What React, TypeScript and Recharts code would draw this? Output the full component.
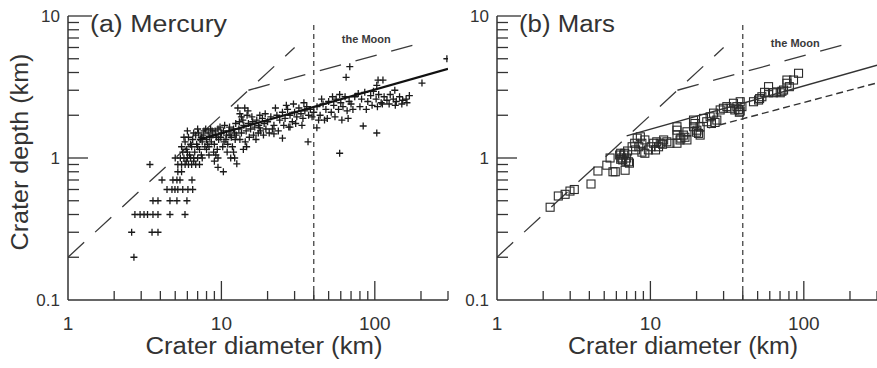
import React from 'react';
import { ScatterChart, Scatter, XAxis, YAxis, ReferenceLine, ReferenceDot } from 'recharts';

// ---------- data ----------
const xTicks = [1, 2, 3, 4, 5, 6, 7, 8, 9, 10, 20, 30, 40, 50, 60, 70, 80, 90, 100, 200, 300];
const yTicks = [0.1, 0.2, 0.3, 0.4, 0.5, 0.6, 0.7, 0.8, 0.9, 1, 2, 3, 4, 5, 6, 7, 8, 9, 10];
const xTickLabels: Record<number, string> = { 1: '1', 10: '10', 100: '100' };
const yTickLabels: Record<number, string> = { 0.1: '0.1', 1: '1', 10: '10' };

// Moon reference relations (diameter km, depth km)
const moonSimple: [number, number][] = [[1, 0.2], [30, 6.0]];
const moonComplex: [number, number][] = [[15, 3.0], [205, 6.5]];
// fits
const mercuryFit: [number, number][] = [[7, 1.34], [300, 4.25]];
const marsFit: [number, number][] = [[7.0, 1.43], [300, 4.5]];
const marsFitDashed: [number, number][] = [[24, 1.63], [300, 3.38]];
const transitionDiameter = 40;

// Mercury craters (diameter km, depth km)
const mercuryCraters: [number, number][] = [
  [2.69, 0.2],
  [2.6, 0.3], [3.53, 0.3], [3.86, 0.3],
  [2.73, 0.4], [2.95, 0.4], [3.13, 0.4], [3.3, 0.4], [3.58, 0.4], [3.86, 0.4], [4.62, 0.4], [5.79, 0.4],
  [3.58, 0.5], [3.86, 0.5], [4.62, 0.5], [5.13, 0.5], [5.96, 0.5],
  [4.42, 0.6], [4.76, 0.6], [4.98, 0.6], [5.2, 0.6], [5.6, 0.6], [6.05, 0.6], [6.5, 0.6],
  [4.1, 0.7], [4.83, 0.7], [5.13, 0.7], [5.37, 0.7], [6.43, 0.7],
  [3.42, 0.9], [5.2, 0.8], [5.5, 0.8], [10.3, 0.8], [9.5, 0.86],
  [5.2, 0.9], [5.5, 0.9], [5.8, 0.9], [6.1, 0.9], [6.4, 0.9], [6.8, 0.9], [7.2, 0.9], [12.6, 0.91],
  [5.0, 1.0], [5.4, 1.0], [5.7, 1.0], [6.0, 1.0], [6.3, 1.0], [6.6, 1.0], [7.0, 1.0], [7.5, 1.0], [9.5, 1.0], [11.5, 1.0], [12.2, 1.0],
  [5.9, 0.95], [6.6, 0.95], [7.4, 1.05], [8.3, 1.05], [9.2, 1.05],
  [5.6, 1.1], [5.9, 1.15], [6.2, 1.05], [6.4, 1.2], [6.7, 1.1], [6.9, 1.25], [7.2, 1.15], [7.5, 1.3], [7.8, 1.2], [8.0, 1.35],
  [5.8, 1.3], [6.1, 1.4], [6.5, 1.35], [6.8, 1.45], [7.1, 1.5], [7.4, 1.4], [7.7, 1.55], [8.2, 1.5], [8.5, 1.6], [8.8, 1.45],
  [6.0, 1.55], [7.0, 1.6], [5.5, 1.2], [5.7, 1.4],
  [6.3, 1.25], [6.6, 1.5], [7.3, 1.35], [7.6, 1.45], [7.9, 1.6], [8.1, 1.25], [8.4, 1.4], [8.7, 1.55], [9.2, 1.45], [9.5, 1.6],
  [9.9, 1.4], [10.3, 1.55], [10.7, 1.35], [11.4, 1.45], [12.2, 1.5], [6.0, 1.1], [7.0, 1.2], [8.0, 1.15], [11.3, 1.65], [12.4, 1.75], [13.1, 1.8],
  [8.3, 1.2], [8.6, 1.3], [9.0, 1.25], [9.3, 1.4], [9.6, 1.35], [10, 1.5], [10.4, 1.3], [10.8, 1.45], [11.2, 1.55], [11.6, 1.4],
  [12, 1.6], [9.1, 1.55], [9.8, 1.65], [10.5, 1.7], [11.0, 1.25], [11.8, 1.2], [12.3, 1.35], [8.9, 1.1], [9.4, 1.15], [10.2, 1.2],
  [10.9, 1.1], [12.0, 1.1], [9.0, 0.95],
  [12.8, 2.25], [14.2, 2.25], [14.9, 2.15], [13.2, 2.05], [14.7, 2.0], [13.5, 1.95],
  [12.5, 1.45], [13, 1.6], [13.5, 1.5], [14, 1.7], [14.5, 1.55], [15, 1.75], [15.5, 1.6], [16, 1.8], [16.5, 1.65], [17, 1.85],
  [17.5, 1.7], [18, 1.55], [18.5, 1.9], [19, 1.75], [19.5, 1.6], [13.2, 1.35], [14.3, 1.3], [15.2, 1.4], [16.2, 1.45], [17.4, 1.5],
  [18.8, 1.45], [13.8, 1.85], [15.8, 1.95], [17.8, 2.0], [19.3, 2.05], [16.8, 1.35], [14.6, 1.2], [13.9, 1.15], [17.8, 1.63], [22, 1.48],
  [20, 1.8], [21, 1.95], [22, 1.7], [23, 2.0], [24, 1.85], [25, 2.1], [26, 1.9], [27, 2.2], [28, 2.0], [29, 1.8],
  [30, 2.1], [31, 1.95], [32, 2.25], [33, 2.05], [34, 1.9], [35, 2.15], [36, 2.3], [37, 2.0], [38, 2.2], [39, 1.95],
  [21.5, 1.6], [23.5, 1.55], [25.5, 1.7], [27.5, 1.65], [30.5, 1.75], [33.5, 1.7], [22.5, 2.25], [26.5, 2.35], [29.5, 2.4], [34.5, 2.45],
  [20.5, 1.5], [25, 1.38], [28, 1.65], [36.7, 1.3], [41.9, 1.63], [47, 1.85],
  [40, 2.1], [42, 2.3], [44, 2.0], [46, 2.4], [48, 2.2], [50, 2.5], [52, 2.1], [54, 2.35], [56, 2.6], [58, 2.2],
  [60, 2.45], [62, 2.3], [64, 2.7], [66, 2.15], [68, 2.5], [43, 1.85], [49, 1.9], [55, 1.95], [61, 1.85], [67, 1.9],
  [45, 2.6], [53, 2.7], [59, 2.8], [59, 1.08], [65, 3.7], [68.7, 4.4],
  [70, 2.4], [74, 2.7], [78, 2.85], [82, 2.6], [86, 2.9], [90, 2.5], [94, 2.75], [98, 2.95], [102, 2.6], [106, 2.8],
  [110, 2.45], [115, 2.7], [120, 2.55], [126, 2.8], [132, 2.6], [138, 2.5], [145, 2.7], [152, 2.55], [160, 2.6], [168, 2.75],
  [72, 2.2], [80, 2.3], [88, 2.2], [96, 2.35], [104, 2.3], [112, 2.4], [124, 2.4], [136, 2.35], [150, 2.4], [162, 2.45],
  [84, 1.68], [103, 1.5], [105, 3.54], [113, 3.54], [103, 3.25], [135, 3.0], [203, 3.37], [295, 5.0],
];

// Mars craters (diameter km, depth km)
const marsCraters: [number, number][] = [
  [2.22, 0.45], [2.51, 0.54], [2.78, 0.555], [2.99, 0.585], [3.19, 0.6], [4.1, 0.656], [4.55, 0.81], [5.2, 0.89], [5.46, 1.0],
  [5.7, 0.8], [5.9, 0.8], [6.84, 0.82],
  [6.3, 1.05], [6.4, 1.08], [6.5, 1.0], [6.6, 0.97], [6.7, 1.05], [6.9, 0.95], [7.0, 1.0], [7.2, 0.94], [7.3, 0.92], [6.4, 0.98],
  [6.8, 1.08], [7.1, 1.12],
  [7.6, 1.2], [7.9, 1.27], [8.2, 1.38], [8.6, 1.41], [8.0, 1.14], [8.4, 1.2], [8.8, 1.27], [9.2, 1.34], [8.8, 1.1], [9.2, 1.08],
  [9.7, 1.14], [10.1, 1.2],
  [10.5, 1.27], [11.0, 1.3], [11.6, 1.27], [12.2, 1.34], [12.8, 1.3], [13.4, 1.27], [10.8, 1.14], [11.3, 1.2], [12.0, 1.25],
  [14.9, 1.27], [15.6, 1.34], [14.9, 1.45], [14.9, 1.66], [14.9, 1.57], [16.4, 1.45], [17.3, 1.53], [17.3, 1.34], [15.8, 1.38], [16.8, 1.4],
  [19.1, 1.66], [20.1, 1.57], [19.1, 1.85], [20.6, 1.49], [21.1, 1.45], [22.2, 1.9], [21.1, 1.66], [20.0, 1.52], [23.3, 1.8], [19.5, 1.75],
  [24.5, 1.95], [25.8, 2.07], [27.1, 1.85], [25.0, 1.75], [26.4, 1.78], [28.5, 2.18], [29.9, 2.24],
  [31.5, 2.3], [33.1, 2.24], [34.8, 2.43], [36.6, 2.3], [38.5, 2.49], [37.5, 2.2], [35.5, 2.18], [38.0, 2.1], [39.5, 2.3], [38.5, 2.14],
  [47.0, 2.49], [50.7, 2.56], [53.3, 2.7], [58.9, 2.88], [58.9, 3.18], [51.5, 2.62], [55.5, 2.9],
  [63.4, 2.88], [70.2, 2.88], [73.8, 3.01], [77.6, 3.36], [77.6, 3.54], [85.7, 3.54], [92.4, 3.95], [80.5, 3.18], [72.0, 2.95], [66.5, 2.92],
];

const toPts = (arr: [number, number][]) => arr.map(([x, y]) => ({ x, y }));

// ---------- styles ----------
const INK = '#333';
const FONT = '"Liberation Sans", Arial, sans-serif';

const XTick = (props: any) => {
  const { x, y, payload } = props;
  const v = payload.value;
  const major = v === 10 || v === 100;
  const label = xTickLabels[v];
  return (
    <g>
      {v !== 1 && (
        <line x1={x} x2={x} y1={y} y2={y - (major ? 19 : 9)} stroke={INK} strokeWidth={1.3} />
      )}
      {label && (
        <text x={x} y={y + 30} textAnchor="middle" fontSize={19} fill={INK} fontFamily={FONT}>
          {label}
        </text>
      )}
    </g>
  );
};

const YTick = (props: any) => {
  const { x, y, payload } = props;
  const v = payload.value;
  const len = v === 10 ? 24 : v === 1 ? 20 : 11;
  const label = yTickLabels[v];
  return (
    <g>
      {v !== 0.1 && <line x1={x} x2={x + len} y1={y} y2={y} stroke={INK} strokeWidth={1.3} />}
      {label && (
        <text x={x - 8} y={y + 6} textAnchor="end" fontSize={17} fill={INK} fontFamily={FONT}>
          {label}
        </text>
      )}
    </g>
  );
};

const Plus = (p: any) => (
  <path
    d={`M${p.cx - 3.5},${p.cy}h7M${p.cx},${p.cy - 3.5}v7`}
    stroke="#1a1a1a"
    strokeWidth={1.3}
    fill="none"
  />
);
const Square = (p: any) => (
  <rect x={p.cx - 4} y={p.cy - 4} width={8} height={8} stroke="#2a2a2a" strokeWidth={1.1} fill="none" />
);
const NoShape = () => <g />;

const xTitle = (dx: number, len: number) => (p: any) => {
  const vb = p.viewBox;
  return (
    <text
      x={vb.x + vb.width / 2 + dx}
      y={vb.y + 54}
      textAnchor="middle"
      fontSize={23}
      fill={INK}
      fontFamily={FONT}
      textLength={len}
      lengthAdjust="spacingAndGlyphs"
    >
      Crater diameter (km)
    </text>
  );
};

const yTitle = (p: any) => {
  const vb = p.viewBox;
  const cx = vb.x + vb.width - 40;
  const cy = vb.y + vb.height / 2 - 6;
  return (
    <text
      x={cx}
      y={cy}
      transform={`rotate(-90 ${cx} ${cy})`}
      textAnchor="middle"
      fontSize={23}
      fill={INK}
      fontFamily={FONT}
      textLength={197}
      lengthAdjust="spacingAndGlyphs"
    >
      Crater depth (km)
    </text>
  );
};

const panelTitle = (text: string, len: number) => (p: any) => {
  const vb = p.viewBox;
  return (
    <text
      x={vb.x + 22}
      y={vb.y + 16}
      fontSize={23}
      fill={INK}
      fontFamily={FONT}
      textLength={len}
      lengthAdjust="spacingAndGlyphs"
    >
      {text}
    </text>
  );
};

const moonLabel = (p: any) => {
  const vb = p.viewBox;
  return (
    <text
      x={vb.x + vb.width / 2}
      y={vb.y + vb.height / 2 + 4}
      textAnchor="middle"
      fontSize={11}
      fontWeight="bold"
      fill="#3a3a3a"
      fontFamily={FONT}
    >
      the Moon
    </text>
  );
};

const Panel = (props: {
  width: number;
  margin: any;
  craters: [number, number][];
  shape: any;
  title: string;
  titleLen: number;
  showYTitle: boolean;
  titleDx: number;
  titleWidth: number;
  moonDepth: number;
  fits: { data: [number, number][]; stroke: string; width: number; dash?: string }[];
}) => (
  <ScatterChart width={props.width} height={368} margin={props.margin}>
    <XAxis
      type="number"
      dataKey="x"
      scale="log"
      domain={[1, 300]}
      allowDataOverflow
      ticks={xTicks}
      interval={0}
      tick={<XTick />}
      tickLine={false}
      tickSize={0}
      tickMargin={0}
      height={1}
      axisLine={{ stroke: INK, strokeWidth: 1.5 }}
      label={{ content: xTitle(props.titleDx, props.titleWidth) }}
    />
    <YAxis
      type="number"
      dataKey="y"
      scale="log"
      domain={[0.1, 10]}
      allowDataOverflow
      ticks={yTicks}
      interval={0}
      tick={<YTick />}
      tickLine={false}
      tickSize={0}
      tickMargin={0}
      width={1}
      axisLine={{ stroke: INK, strokeWidth: 1.5 }}
      label={props.showYTitle ? { content: yTitle } : undefined}
    />
    <ReferenceLine
      segment={[{ x: transitionDiameter, y: 0.1 }, { x: transitionDiameter, y: 9.2 }]}
      stroke="#444"
      strokeWidth={1.3}
      strokeDasharray="5 4"
    />
    <Scatter
      data={toPts(moonSimple)}
      line={{ stroke: '#3a3a3a', strokeWidth: 1.3, strokeDasharray: '22 15' }}
      shape={NoShape}
      isAnimationActive={false}
    />
    <Scatter
      data={toPts(moonComplex)}
      line={{ stroke: '#3a3a3a', strokeWidth: 1.3, strokeDasharray: '22 15' }}
      shape={NoShape}
      isAnimationActive={false}
    />
    <Scatter data={toPts(props.craters)} shape={props.shape} isAnimationActive={false} />
    {props.fits.map((f, i) => (
      <Scatter
        key={i}
        data={toPts(f.data)}
        line={{ stroke: f.stroke, strokeWidth: f.width, strokeDasharray: f.dash }}
        shape={NoShape}
        isAnimationActive={false}
      />
    ))}
    <ReferenceDot x={1} y={10} r={0} stroke="none" fill="none" label={{ content: panelTitle(props.title, props.titleLen) }} />
    <ReferenceDot x={88} y={props.moonDepth} r={0} stroke="none" fill="none" label={{ content: moonLabel }} />
  </ScatterChart>
);

export default function App() {
  return (
    <div style={{ position: 'absolute', left: 0, top: 0, width: 877, height: 368, background: '#fff', overflow: 'hidden' }}>
      <div style={{ position: 'absolute', left: 0, top: 0 }}>
        <Panel
          width={460}
          margin={{ top: 16, right: 12, bottom: 67, left: 67 }}
          craters={mercuryCraters}
          shape={Plus}
          title="(a) Mercury"
          titleLen={137}
          showYTitle={true}
          titleDx={6}
          titleWidth={237}
          moonDepth={6.9}
          fits={[{ data: mercuryFit, stroke: '#111', width: 2.2 }]}
        />
      </div>
      <div style={{ position: 'absolute', left: 440, top: 0 }}>
        <Panel
          width={437}
          margin={{ top: 16, right: 0, bottom: 67, left: 56 }}
          craters={marsCraters}
          shape={Square}
          title="(b) Mars"
          titleLen={96}
          showYTitle={false}
          titleDx={-4}
          titleWidth={230}
          moonDepth={6.5}
          fits={[
            { data: marsFit, stroke: '#333', width: 1.4 },
            { data: marsFitDashed, stroke: '#333', width: 1.4, dash: '7 4' },
          ]}
        />
      </div>
    </div>
  );
}
